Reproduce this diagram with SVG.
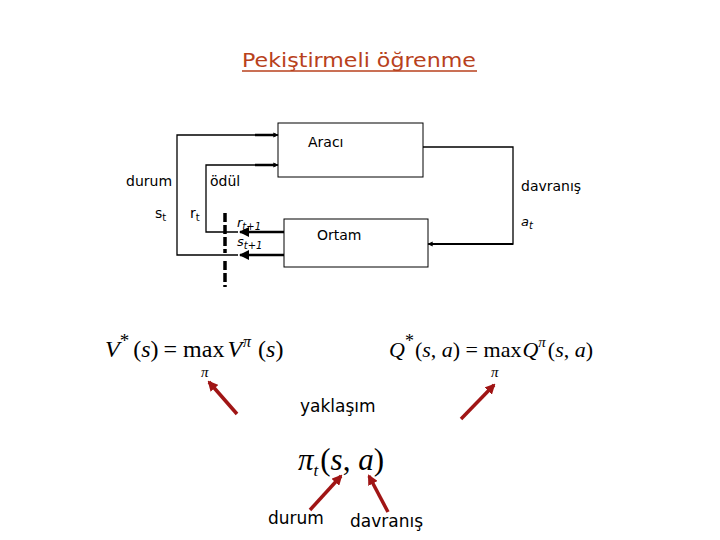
<svg xmlns="http://www.w3.org/2000/svg" width="720" height="540" viewBox="0 0 720 540">
<defs>
<marker id="ah" viewBox="0 0 10 10" refX="9" refY="5" markerWidth="4" markerHeight="4" orient="auto-start-reverse"><path d="M0,0 L10,5 L0,10 z" fill="#000"/></marker>
<marker id="rh" viewBox="0 0 10 10" refX="8" refY="5" markerWidth="3" markerHeight="3" orient="auto"><path d="M0,0 L10,5 L0,10 z" fill="#A01515"/></marker>
<style>
.box{fill:#fff;stroke:#000;stroke-width:1}
.ln{fill:none;stroke:#000;stroke-width:1.3}
.th{fill:none;stroke:#000;stroke-width:2.5}
.lbl{font-family:"DejaVu Sans",sans-serif;font-size:14px;fill:#000}
.it{font-family:"DejaVu Sans",sans-serif;font-size:13px;font-style:italic;fill:#000}
.m{font-family:"Liberation Serif",serif;font-size:22px;fill:#000}
.red{stroke:#A01515;stroke-width:3.5;fill:none}
.cs{font-family:"DejaVu Sans",sans-serif;font-size:17px;fill:#000}
</style>
</defs>
<rect width="720" height="540" fill="#fff"/>
<text x="242" y="67" font-family="DejaVu Sans, sans-serif" font-size="20" fill="#B8411C" textLength="234" lengthAdjust="spacingAndGlyphs">Pekiştirmeli öğrenme</text>
<line x1="242" y1="71" x2="477" y2="71" stroke="#B8411C" stroke-width="1.5"/>
<g id="araci"><rect class="box" x="278" y="123" width="145" height="54"/><text class="lbl" x="308" y="147">Aracı</text></g>
<g id="ortam"><rect class="box" x="284" y="219" width="144" height="48"/><text class="lbl" x="317" y="240">Ortam</text></g>
<g id="connectors">
<polyline class="ln" points="423,147 513,147 513,244 428,244" marker-end="url(#ah)"/>
<line x1="513" y1="244" x2="430" y2="244" stroke="#000" stroke-width="2"/>
<polyline class="ln" points="238,255 177,255 177,135 278,135" marker-end="url(#ah)"/>
<line class="th" x1="255" y1="135" x2="276" y2="135"/>
<line class="th" x1="284" y1="255" x2="240" y2="255" marker-end="url(#ah)"/>
<polyline class="ln" points="238,232 206,232 206,165 278,165" marker-end="url(#ah)"/>
<line class="th" x1="255" y1="165" x2="276" y2="165"/>
<line class="th" x1="284" y1="232" x2="240" y2="232" marker-end="url(#ah)"/>
<line x1="225" y1="213" x2="225" y2="287" stroke="#000" stroke-width="3.5" stroke-dasharray="9,3,9,3,9,3,4,8,9,3"/>
</g>
<g id="labels">
<text class="lbl" x="126" y="186">durum</text>
<text class="lbl" x="210" y="186">ödül</text>
<text class="lbl" x="521" y="191">davranış</text>
<text class="lbl" x="155" y="218">s<tspan font-size="10" dy="3">t</tspan></text>
<text class="lbl" x="190" y="218">r<tspan font-size="10" dy="3">t</tspan></text>
<text class="it" x="237" y="227">r<tspan font-size="10" dy="3">t+1</tspan></text>
<text class="it" x="237" y="246">s<tspan font-size="10" dy="3">t+1</tspan></text>
<text class="it" x="521" y="226">a<tspan font-size="10" dy="3">t</tspan></text>
</g>
<g id="formulaV">
<text class="m" x="105" y="357" style="font-size:24px"><tspan font-style="italic">V</tspan><tspan font-size="19" dy="-10">*</tspan><tspan dy="10" dx="4">(</tspan><tspan font-style="italic">s</tspan>)<tspan dx="5">=</tspan><tspan dx="6">max</tspan><tspan font-style="italic" dx="3">V</tspan><tspan font-size="16" font-style="italic" dy="-10" dx="1">π</tspan><tspan dy="10" dx="7">(</tspan><tspan font-style="italic">s</tspan>)</text>
<text class="m" x="201" y="377" style="font-size:15px;font-style:italic">π</text>
</g>
<g id="formulaQ">
<text class="m" x="389" y="357"><tspan font-style="italic">Q</tspan><tspan font-size="18" dy="-10">*</tspan><tspan dy="10" dx="1">(</tspan><tspan font-style="italic">s</tspan>, <tspan font-style="italic">a</tspan>) = max<tspan font-style="italic" dx="1">Q</tspan><tspan font-size="15" font-style="italic" dy="-10">π</tspan><tspan dy="10" dx="2">(</tspan><tspan font-style="italic">s</tspan>, <tspan font-style="italic">a</tspan>)</text>
<text class="m" x="491" y="377" style="font-size:15px;font-style:italic">π</text>
</g>
<g id="yaklasim">
<text class="cs" x="300" y="412">yaklaşım</text>
<text class="m" x="298" y="470" style="font-size:31px"><tspan font-style="italic">π</tspan><tspan font-size="17" font-style="italic" dy="6">t</tspan><tspan dy="-6" dx="2">(</tspan><tspan font-style="italic">s</tspan>, <tspan font-style="italic">a</tspan>)</text>
<text class="cs" x="268" y="524">durum</text>
<text class="cs" x="350" y="527">davranış</text>
</g>
<g id="arrows">
<line class="red" x1="237" y1="414" x2="209" y2="382" marker-end="url(#rh)"/>
<line class="red" x1="461" y1="419" x2="494" y2="385" marker-end="url(#rh)"/>
<line class="red" x1="310" y1="510" x2="341" y2="476" marker-end="url(#rh)"/>
<line class="red" x1="388" y1="512" x2="369" y2="476" marker-end="url(#rh)"/>
</g>
</svg>
